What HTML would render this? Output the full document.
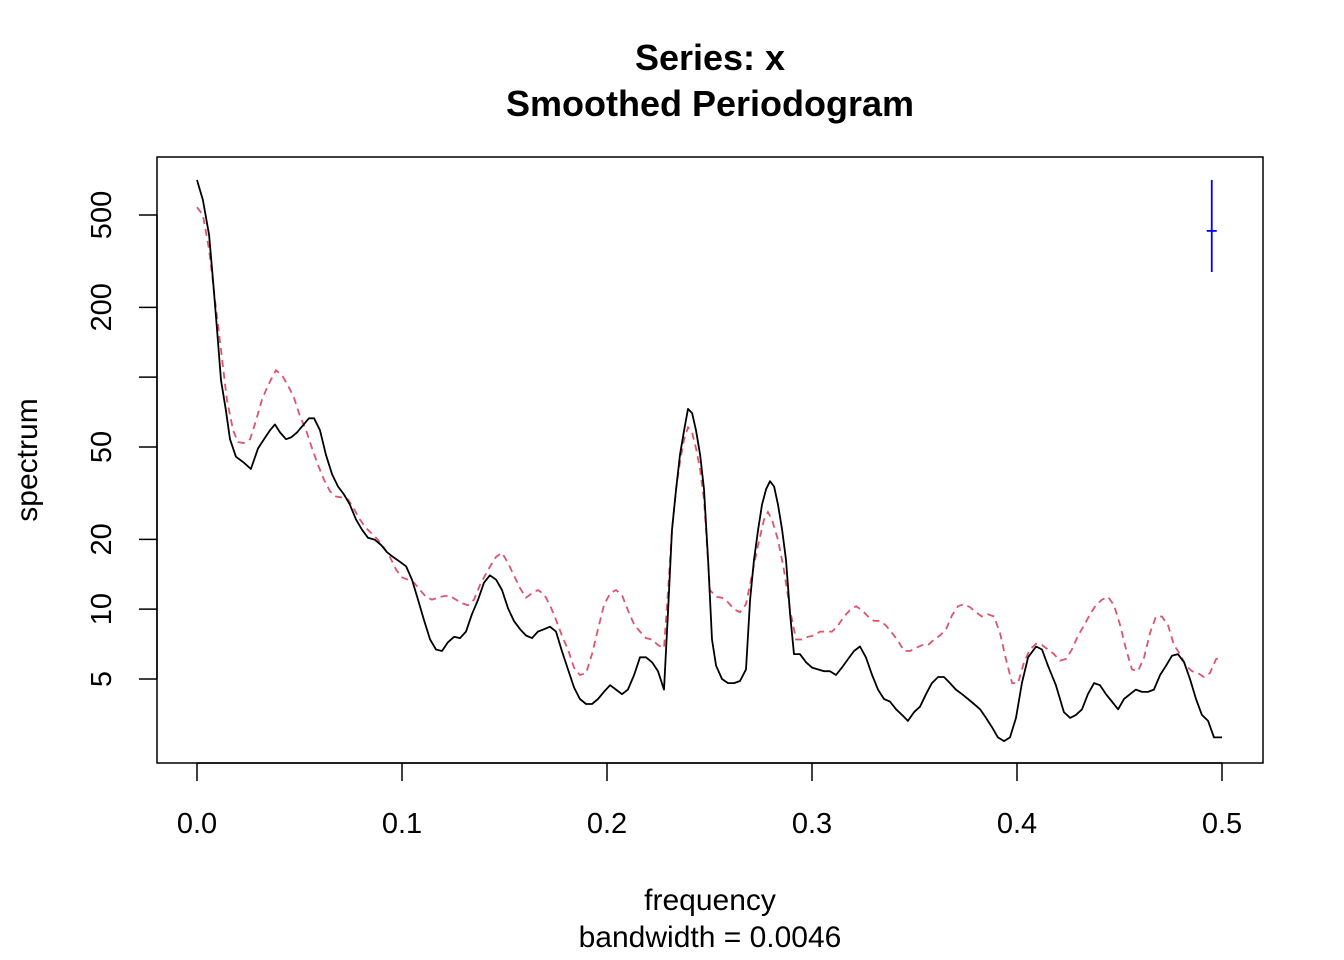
<!DOCTYPE html>
<html><head><meta charset="utf-8"><style>
html,body{margin:0;padding:0;background:#fff;}
svg{display:block;font-family:"Liberation Sans",Arial,sans-serif;}
</style></head><body>
<svg id="chart" width="1344" height="960" viewBox="0 0 1344 960" xmlns="http://www.w3.org/2000/svg">
<rect x="0" y="0" width="1344" height="960" fill="#fff"/>
<text x="710" y="70" text-anchor="middle" font-size="36" font-weight="bold">Series: x</text>
<text x="710" y="116" text-anchor="middle" font-size="36" font-weight="bold">Smoothed Periodogram</text>
<rect x="157" y="157" width="1106" height="606" fill="none" stroke="#000" stroke-width="1.5"/>
<g id="xaxis"></g>
<g id="yaxis"></g>
<text x="710" y="910" text-anchor="middle" font-size="30">frequency</text>
<text x="710" y="947" text-anchor="middle" font-size="30">bandwidth = 0.0046</text>
<text transform="translate(37,460) rotate(-90)" text-anchor="middle" font-size="30">spectrum</text>
<g id="series"></g>
</svg>
<script>
const xTicks=[0,0.1,0.2,0.3,0.4,0.5];
const xTickLabels=["0.0","0.1","0.2","0.3","0.4","0.5"];
const yTicks=[5,10,20,50,100,200,500];
const yTickLabels=["5","10","20","50","","200","500"];
const rawFreq=[0,.0029,.0059,.0078,.0098,.0117,.0141,.0161,.019,.0229,.0263,.0298,.0327,.0356,.038,.0405,.0434,.0459,.0488,.0517,.0546,.0571,.06,.0629,.0659,.0688,.0717,.0746,.0776,.0805,.0834,.0868,.0898,.0927,.0956,.099,.102,.1049,.1078,.1107,.1137,.1166,.1195,.1224,.1254,.1283,.1312,.1341,.1371,.14,.1429,.1459,.1488,.1517,.1546,.1576,.1605,.1634,.1663,.1693,.1722,.1751,.178,.181,.1839,.1868,.1898,.1927,.1956,.1985,.2015,.2044,.2073,.2102,.2132,.2161,.219,.222,.2249,.2278,.2298,.2317,.2337,.2356,.2376,.2395,.2415,.2434,.2454,.2473,.2493,.2512,.2532,.2561,.259,.262,.2649,.2678,.2698,.2717,.2737,.2756,.2776,.2795,.2815,.2834,.2854,.2873,.2893,.2912,.2941,.2971,.3,.3029,.3059,.3088,.3117,.3146,.3176,.3205,.3234,.3263,.3293,.3322,.3351,.338,.341,.3439,.3468,.3498,.3527,.3556,.3585,.3615,.3644,.3673,.3702,.3732,.3761,.379,.382,.3849,.3878,.3907,.3937,.3966,.3995,.4024,.4054,.4093,.4122,.4151,.419,.4229,.4259,.4288,.4317,.4346,.4376,.4405,.4434,.4463,.4493,.4522,.4551,.458,.461,.4639,.4668,.4698,.4727,.4756,.4785,.4815,.4844,.4873,.4902,.4932,.4961,.5];
const rawSpec=[708,580,410,262,159,97,72,54,45.4,42.8,40.2,49.4,54,59,62.6,57.8,54,55,57.8,62,66.5,66.5,59,46.3,38.1,33.8,31.2,28.2,24.3,22,20.3,19.9,18.9,17.6,16.8,16,15.3,13.4,11,9,7.4,6.7,6.6,7.2,7.6,7.5,8,9.5,11,13,14,13.4,12.1,10.1,8.9,8.2,7.7,7.5,8,8.2,8.4,8,6.6,5.5,4.6,4.1,3.9,3.9,4.1,4.4,4.7,4.5,4.3,4.5,5.2,6.2,6.2,5.9,5.4,4.5,9.9,22,32.9,46.3,59,73,70,59,46.3,32.9,16.3,7.4,5.7,5,4.8,4.8,4.9,5.5,11,16.3,22,28.2,32.9,35.6,33.8,28.2,22,16.3,9.5,6.4,6.4,5.9,5.6,5.5,5.4,5.4,5.2,5.6,6.1,6.6,6.9,6.2,5.2,4.5,4.1,4,3.7,3.5,3.3,3.6,3.8,4.3,4.8,5.1,5.1,4.8,4.5,4.3,4.1,3.9,3.7,3.4,3.1,2.8,2.7,2.8,3.4,4.8,6.2,6.9,6.7,5.7,4.7,3.6,3.4,3.5,3.7,4.3,4.8,4.7,4.3,4,3.7,4.1,4.3,4.5,4.4,4.4,4.5,5.2,5.7,6.3,6.4,5.9,5,4.1,3.5,3.3,2.8,2.8];
const smoothFreq=[0,.0029,.0059,.0088,.0117,.0146,.0176,.02,.0229,.0259,.0288,.0317,.0346,.0385,.0415,.0444,.0473,.0502,.0532,.0561,.059,.0619,.0649,.0678,.0707,.0737,.0766,.0795,.0824,.0854,.0883,.0912,.0941,.0971,.1,.1029,.1059,.1088,.1117,.1146,.1176,.1205,.1234,.1263,.1293,.1322,.1351,.138,.142,.1459,.1488,.1517,.1546,.1576,.1605,.1634,.1663,.1693,.1722,.1751,.178,.181,.1839,.1868,.1898,.1927,.1956,.1985,.2015,.2044,.2073,.2102,.2132,.2161,.219,.222,.2249,.2278,.2298,.2317,.2337,.2356,.2376,.2395,.2415,.2434,.2454,.2473,.2502,.2532,.2561,.259,.262,.2649,.2678,.2707,.2737,.2766,.2785,.2805,.2834,.2863,.2893,.2922,.2951,.298,.301,.3039,.3068,.3098,.3127,.3156,.3185,.3215,.3244,.3273,.3302,.3332,.3361,.339,.342,.3449,.3478,.3507,.3537,.3566,.3595,.3624,.3654,.3683,.3712,.3741,.3771,.38,.3829,.3859,.3888,.3917,.3946,.3976,.4005,.4034,.4063,.4093,.4122,.4151,.418,.421,.4239,.4268,.4298,.4327,.4356,.4385,.4415,.4444,.4473,.4502,.4532,.4561,.459,.462,.4649,.4678,.4707,.4737,.4766,.4795,.4824,.4854,.4883,.4912,.4941,.4971,.5];
const smoothSpec=[540,500,354,215,131,80,59,52.5,52,54,65,80,92,107,102,92,81.5,68,59,49.4,41.9,36.2,32.2,30.6,30.3,29.7,27,24.3,22.4,21.1,19.9,18.4,16.8,14.8,13.7,13.4,13,12.1,11.3,11,11.2,11.4,11.4,11,10.6,10.4,11,12.7,14.8,16.8,17.5,15.8,14,12.3,11.2,11.7,12.1,11.6,10.4,9,7.7,6.7,5.6,5.2,5.3,6.4,8.2,10.4,11.7,12.1,11.5,9.9,8.6,8,7.5,7.4,7,6.8,12.1,22,32.9,43.2,54,60.8,57.8,49.4,40,29.7,12.1,11.3,11.2,10.7,10,9.7,10.5,14,18.9,24.3,26.2,24.3,19.9,14.8,9.9,7.4,7.4,7.6,7.7,8,8,8,8.5,9.3,9.9,10.3,9.9,9.3,8.9,8.9,8.5,7.9,7.3,6.6,6.6,6.8,7,7,7.4,7.7,8.2,9.4,10.3,10.5,10.2,9.7,9.3,9.5,9.3,7.9,6.1,4.8,4.8,5.9,6.7,7.1,7,6.7,6.4,6,6.1,6.7,7.7,8.5,9.5,10.4,11,11.3,10.4,8.6,6.7,5.5,5.4,6.2,7.9,9.3,9.3,8.5,7,6.4,5.7,5.4,5.3,5.1,5.3,6.1,6.2];
const ciFreq=0.495;
const ciCenter=427, ciUpper=708, ciLower=284;

const NS="http://www.w3.org/2000/svg";
function xs(f){return 197+f*2050;}
function ys(v){return 215+232*(Math.log10(500)-Math.log10(v));}
function mk(tag,attrs,parent){const e=document.createElementNS(NS,tag);for(const k in attrs)e.setAttribute(k,attrs[k]);parent.appendChild(e);return e;}
const xa=document.getElementById('xaxis'),ya=document.getElementById('yaxis'),sg=document.getElementById('series');
mk('line',{x1:xs(xTicks[0]),x2:xs(xTicks[xTicks.length-1]),y1:763,y2:763,stroke:'#000','stroke-width':1.5},xa);
xTicks.forEach((t,i)=>{
  const l=mk('line',{x1:xs(t),x2:xs(t),y1:763,y2:781,stroke:'#000','stroke-width':1.5},xa);
  
  
  const tx=mk('text',{x:xs(t),y:833,'text-anchor':'middle','font-size':29},xa);
  tx.textContent=xTickLabels[i];
  
  
});
mk('line',{x1:157,x2:157,y1:ys(yTicks[yTicks.length-1]),y2:ys(yTicks[0]),stroke:'#000','stroke-width':1.5},ya);
yTicks.forEach((t,i)=>{
  const l=mk('line',{x1:139,x2:157,y1:ys(t),y2:ys(t),stroke:'#000','stroke-width':1.5},ya);
  
  
  if(yTickLabels[i]){
    const tx=mk('text',{transform:`translate(111,${ys(t)}) rotate(-90)`,'text-anchor':'middle','font-size':29},ya);
    tx.textContent=yTickLabels[i];
    
    
  }
});
function path(fr,sp){const n=Math.min(fr.length,sp.length);let d='';for(let i=0;i<n;i++)d+=(i?'L':'M')+xs(fr[i]).toFixed(1)+','+ys(sp[i]).toFixed(1);return d;}
const sm=mk('path',{d:path(smoothFreq,smoothSpec),fill:'none',stroke:'#DF536B','stroke-width':1.8,'stroke-dasharray':'7,5'},sg);


const rw=mk('path',{d:path(rawFreq,rawSpec),fill:'none',stroke:'#000','stroke-width':1.8,'stroke-linejoin':'round'},sg);


const ci=mk('line',{x1:xs(ciFreq),x2:xs(ciFreq),y1:ys(ciUpper),y2:ys(ciLower),stroke:'#0000FF','stroke-width':1.8},sg);


const cc=mk('line',{x1:xs(ciFreq)-5,x2:xs(ciFreq)+5,y1:ys(ciCenter),y2:ys(ciCenter),stroke:'#0000FF','stroke-width':1.8},sg);


</script>
</body></html>
